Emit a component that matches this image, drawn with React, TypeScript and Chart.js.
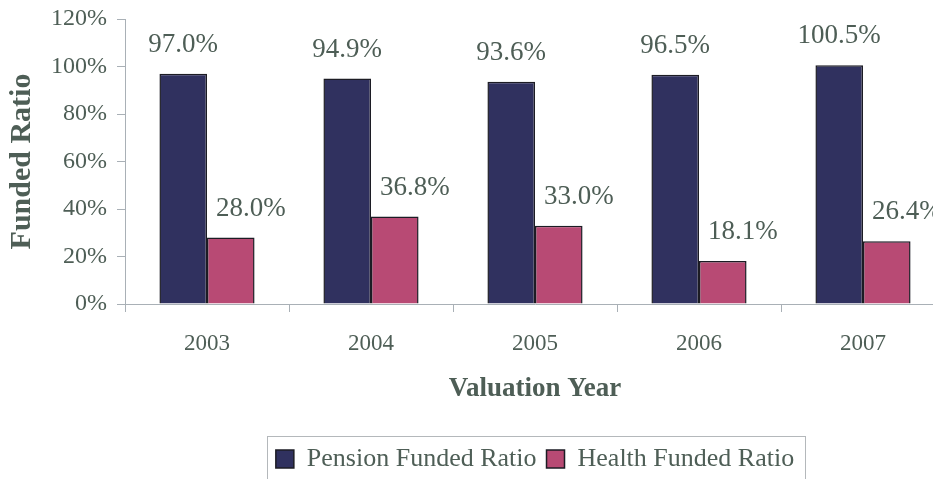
import React, { useEffect, useRef } from "react";
import { Chart, registerables } from "chart.js";

Chart.register(...registerables);

const categories = ["2003", "2004", "2005", "2006", "2007"];
const pensionValues = [97.0, 94.9, 93.6, 96.5, 100.5];
const healthValues = [28.0, 36.8, 33.0, 18.1, 26.4];
const yTicks = [0, 20, 40, 60, 80, 100, 120];
const seriesNames = ["Pension Funded Ratio", "Health Funded Ratio"];

const TEXT = "#4e5e56";
const AXIS = "#a9b0b6";
const SERIF = "'Liberation Serif', 'Times New Roman', serif";

const labelPlugin = {
  id: "valueLabels",
  afterDatasetsDraw(chart: any) {
    const ctx = chart.ctx;
    ctx.save();
    ctx.font = `27px ${SERIF}`;
    ctx.fillStyle = TEXT;
    ctx.textAlign = "center";
    ctx.textBaseline = "middle";
    chart.data.datasets.forEach((ds: any, di: number) => {
      const meta = chart.getDatasetMeta(di);
      meta.data.forEach((bar: any, i: number) => {
        const v = ds.data[i];
        const dx = di === 1 ? 20 : 0;
        ctx.fillText(v.toFixed(1) + "%", bar.x + dx, bar.y - 29);
      });
    });
    ctx.restore();
  },
};

const legendBoxPlugin = {
  id: "legendBox",
  afterDraw(chart: any) {
    const lg = chart.legend;
    if (!lg || !lg.legendHitBoxes || !lg.legendHitBoxes.length) return;
    const hb = lg.legendHitBoxes;
    const left = hb[0].left - 9;
    const last = hb[hb.length - 1];
    const right = last.left + last.width + 11;
    const top = lg.top;
    const bottom = lg.bottom + 20;
    const ctx = chart.ctx;
    ctx.save();
    ctx.strokeStyle = "#b4b8bb";
    ctx.lineWidth = 1;
    ctx.strokeRect(Math.round(left) + 0.5, Math.round(top) + 0.5, Math.round(right - left), bottom - top);
    ctx.restore();
  },
};

export default function App() {
  const ref = useRef<HTMLCanvasElement>(null);
  useEffect(() => {
    if (!ref.current) return;
    Chart.defaults.font.family = SERIF;
    const chart = new Chart(ref.current, {
      type: "bar",
      data: {
        labels: categories,
        datasets: [
          {
            label: seriesNames[0],
            data: pensionValues,
            backgroundColor: "#30315f",
            borderColor: "#1c1c24",
            borderWidth: 1.5,
          },
          {
            label: seriesNames[1],
            data: healthValues,
            backgroundColor: "#b84a74",
            borderColor: "#1c1c24",
            borderWidth: 1.5,
          },
        ],
      },
      options: {
        responsive: false,
        animation: false,
        layout: { padding: { top: 19, right: 125, bottom: 8, left: 0 } },
        plugins: {
          legend: {
            position: "bottom",
            fullSize: false,
            labels: {
              boxWidth: 18,
              boxHeight: 18,
              padding: 10,
              color: TEXT,
              font: { size: 26, family: SERIF },
            },
          },
          tooltip: { enabled: false },
        },
        datasets: {
          bar: { barPercentage: 1.0, categoryPercentage: 0.58 },
        },
        scales: {
          x: {
            grid: {
              offset: true,
              drawOnChartArea: false,
              drawTicks: true,
              tickLength: 8,
              color: AXIS,
            },
            border: { color: AXIS, width: 1 },
            ticks: { color: TEXT, font: { size: 23 }, padding: 18 },
            title: {
              display: true,
              text: "Valuation Year",
              color: TEXT,
              font: { size: 27, weight: "bold" },
              padding: { top: 0, bottom: 31 },
            },
            afterFit(scale: any) {
              scale.height = 132;
            },
          },
          y: {
            min: 0,
            max: 120,
            afterBuildTicks(scale: any) {
              scale.ticks = yTicks.map((v) => ({ value: v }));
            },
            grid: {
              drawOnChartArea: false,
              drawTicks: true,
              tickLength: 8,
              color: AXIS,
            },
            border: { color: AXIS, width: 1 },
            ticks: {
              color: TEXT,
              font: { size: 24 },
              padding: 10,
              callback: (v: any) => v + "%",
            },
            title: {
              display: true,
              text: "Funded Ratio",
              color: TEXT,
              font: { size: 30, weight: "bold" },
              padding: { top: 4, bottom: 0 },
            },
            afterFit(scale: any) {
              scale.width = 125;
              scale.paddingTop = 0;
              scale.paddingBottom = 0;
            },
          },
        },
      },
      plugins: [labelPlugin, legendBoxPlugin],
    } as any);
    return () => chart.destroy();
  }, []);

  return (
    <div
      style={{
        position: "fixed",
        left: 0,
        top: 0,
        width: 933,
        height: 479,
        overflow: "hidden",
        background: "#ffffff",
      }}
    >
      <canvas ref={ref} width={1070} height={490} style={{ display: "block" }} />
    </div>
  );
}
